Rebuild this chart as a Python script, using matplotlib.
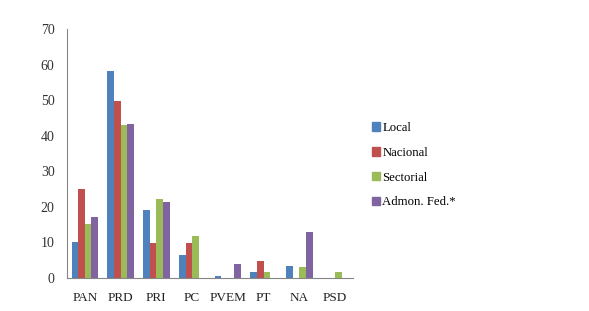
import numpy as np, matplotlib
matplotlib.use("Agg"); import matplotlib.pyplot as plt
from matplotlib.patches import Patch

parties = ["PAN", "PRD", "PRI", "PC", "PVEM", "PT", "NA", "PSD"]
series = ["Local", "Nacional", "Sectorial", "Admon. Fed.*"]
local = [10, 58.3, 19.2, 6.4, 0.6, 1.6, 3.5, 0]
nacional = [25, 49.8, 9.8, 9.9, 0, 4.9, 0, 0]
sectorial = [15.3, 43.1, 22.3, 11.8, 0, 1.6, 3.2, 1.7]
admon = [17.1, 43.3, 21.5, 0, 4.0, 0, 12.8, 0]
colors = ["#4F81BD", "#C0504D", "#9BBB59", "#8064A2"]

plt.rcParams["font.family"] = ["Liberation Serif", "DejaVu Serif"]
fig = plt.figure(figsize=(5.89, 3.11), dpi=100)
ax = fig.add_axes([67/589, 33/311, 286/589, 249/311])

x = np.arange(len(parties)); w = 0.185
for i, (vals, c) in enumerate(zip([local, nacional, sectorial, admon], colors)):
    ax.bar(x + (i - 1.5)*w, vals, w, color=c)

ax.set_xlim(-0.5, len(parties) - 0.5); ax.set_ylim(0, 70)
ax.set_yticks(range(0, 71, 10))
ax.set_xticks(x, parties)
for s in ["top", "right"]: ax.spines[s].set_visible(False)
for s in ["left", "bottom"]: ax.spines[s].set_color("#868686")
ax.tick_params(axis="y", length=0, pad=9, labelsize=10, colors="#333333")
ax.tick_params(axis="x", length=0, pad=10, labelsize=9.5, colors="#222222")

handles = [Patch(color=c, label=s) for c, s in zip(colors, series)]
fig.legend(handles=handles, loc="upper left", bbox_to_anchor=(367/589, 1 - 117/311),
           frameon=False, fontsize=9.2, handlelength=0.65, handleheight=0.65,
           handletextpad=0.15, labelspacing=1.0, borderaxespad=0)
fig.savefig("out.png", dpi=100)
